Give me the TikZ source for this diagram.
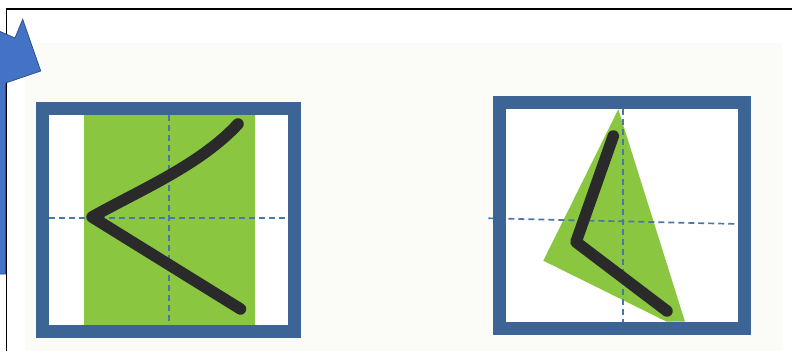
\documentclass[tikz,border=0pt]{standalone}
\begin{document}
\begin{tikzpicture}[x=1pt,y=-1pt,
  boxframe/.style={draw=frameblue,line width=13pt},
  guide/.style={draw=dashblue,line width=1.7pt,dash pattern=on 6pt off 4pt},
  brush/.style={draw=ink,line width=11.5pt,line cap=round,line join=round},
  leaf/.style={fill=leafgreen,draw=none}]
\definecolor{frameblue}{HTML}{3C6596}
\definecolor{arrowblue}{HTML}{4472C4}
\definecolor{arrowedge}{HTML}{2F528F}
\definecolor{leafgreen}{HTML}{8AC640}
\definecolor{ink}{HTML}{2A2A2A}
\definecolor{dashblue}{HTML}{4A78A6}
\definecolor{paper}{HTML}{FBFCF8}
\useasboundingbox (0,0) rectangle (792,351);
% scanned paper
\fill[paper] (25,43) rectangle (782,351);
% left box
\fill[white] (42.5,108.3) rectangle (294.2,331);
\path[leaf] (84.3,115) rectangle (255,325);
\path[guide] (169.3,115) -- (169.3,325);
\path[guide] (49,217.7) -- (287.7,217.7);
\path[brush] (238,124) .. controls (200,165) and (140,190) .. (92,217) -- (240.5,309);
\path[boxframe] (42.5,108.3) rectangle (294.2,331);
% right box
\fill[white] (499.7,102.7) rectangle (744.5,328.3);
\path[leaf] (618.3,109.3) -- (543.3,260.7) -- (666.7,321.7) -- (685,321.7) -- cycle;
\path[guide] (623.3,109.3) -- (623.3,321.7);
\path[guide] (488.3,218.3) -- (738.3,224);
\path[brush] (613.3,136) -- (576,242) -- (667,311);
\path[boxframe] (499.7,102.7) rectangle (744.5,328.3);
% outer black frame
\draw[black,line width=1.5pt] (6.5,351) -- (6.5,9) -- (792,9);
% blue arrow
\filldraw[fill=arrowblue,draw=arrowedge,line width=0.8pt]
  (-1,31) -- (15,38) -- (22.7,19.3) -- (40.7,71) -- (5.5,83) -- (5.5,274) -- (-1,274) -- cycle;
\end{tikzpicture}
\end{document}
